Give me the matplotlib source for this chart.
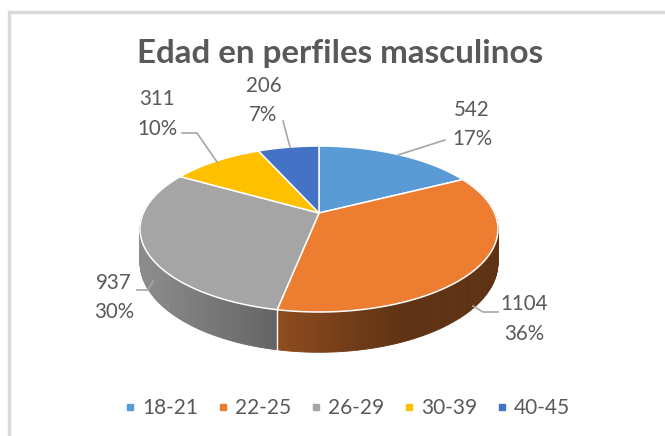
import numpy as np
import matplotlib
matplotlib.use("Agg")
import matplotlib.pyplot as plt
from matplotlib.lines import Line2D

categories = ["18-21", "22-25", "26-29", "30-39", "40-45"]
values = [542, 1104, 937, 311, 206]
colors = ["#5B9BD5", "#ED7D31", "#A5A5A5", "#FFC000", "#4472C4"]
title = "Edad en perfiles masculinos"
text_color = "#595959"
font = "Lato"

# (label x, label y, leader line xs, leader line ys)
label_pos = [(472, 124.5, [398, 445], [155, 140]),
             (524, 319, [473, 483, 498], [306, 312, 312]),
             (114, 297.5, [137, 148, 153], [290, 290, 281]),
             (157, 114, [217, 197, 182], [162, 133, 133]),
             (263.5, 100.5, [290, 283], [147, 121])]

fig = plt.figure(figsize=(6.65, 4.36), dpi=100, facecolor="white")
ax = fig.add_axes([0, 0, 1, 1])
ax.set_xlim(0, 665)
ax.set_ylim(436, 0)
ax.axis("off")

# chart frame (left and top edges visible)
ax.plot([8.5, 8.5, 665], [436, 12, 12], color="#D9D9D9", lw=2.5, solid_joinstyle="miter")

cx, cy, a, b, k, d = 319, 213, 175.6, 79.9, 0.193, 32.5

def project(t):
    u, v = np.sin(t), np.cos(t)
    w = 1 + k * v
    return cx + a * u / w, cy - b * v / w, d / w

def shade(c, x):
    f = np.interp(x, [142, 278, 400, 498], [0.85, 0.6, 0.4, 0.4])
    return tuple(f * np.array(matplotlib.colors.to_rgb(c)))

bounds = np.concatenate([[0], np.cumsum(values)]) / np.sum(values) * 2 * np.pi

# side wall
for i, col in enumerate(colors):
    ts = np.linspace(bounds[i], bounds[i + 1], max(3, int((bounds[i + 1] - bounds[i]) * 70)))
    x, y, dep = project(ts)
    for j in range(len(ts) - 1):
        if np.cos(ts[j]) > 0.3:
            continue
        c = shade(col, (x[j] + x[j + 1]) / 2)
        ax.fill([x[j], x[j + 1], x[j + 1], x[j]],
                [y[j], y[j + 1], y[j + 1] + dep[j + 1], y[j] + dep[j]],
                facecolor=c, edgecolor=c, lw=0.6, zorder=2)

# seams on the side wall
for bd in bounds[:-1]:
    if np.cos(bd) < 0:
        x, y, dep = project(bd)
        ax.plot([x, x], [y, y + dep], color="white", lw=1, zorder=3)

# top faces
for i, col in enumerate(colors):
    ts = np.linspace(bounds[i], bounds[i + 1], 200)
    x, y, _ = project(ts)
    ax.fill(np.r_[cx, x], np.r_[cy, y], facecolor=col, edgecolor="white", lw=1.1,
            joinstyle="round", zorder=4)

# labels and leader lines
total = sum(values)
for v, (lx, ly, xs, ys) in zip(values, label_pos):
    ax.plot(xs, ys, color="#A6A6A6", lw=1.2, zorder=5)
    ax.text(lx, ly, f"{v}\n{v / total:.0%}", ha="center", va="center", fontsize=14.8,
            color=text_color, family=font, linespacing=1.6, zorder=6)

ax.text(340, 54, title, ha="center", va="center", fontsize=23.9, fontweight="bold",
        color=text_color, family=font)

handles = [Line2D([], [], ls="", marker="s", ms=5, color=c) for c in colors]
ax.legend(handles, categories, ncol=5, loc="center", bbox_to_anchor=(347 / 665, 1 - 408 / 436),
          frameon=False, handletextpad=0.3, columnspacing=0.87, handlelength=0.6,
          prop={"family": font, "size": 15}, labelcolor=text_color)

fig.savefig("out.png", dpi=100)
